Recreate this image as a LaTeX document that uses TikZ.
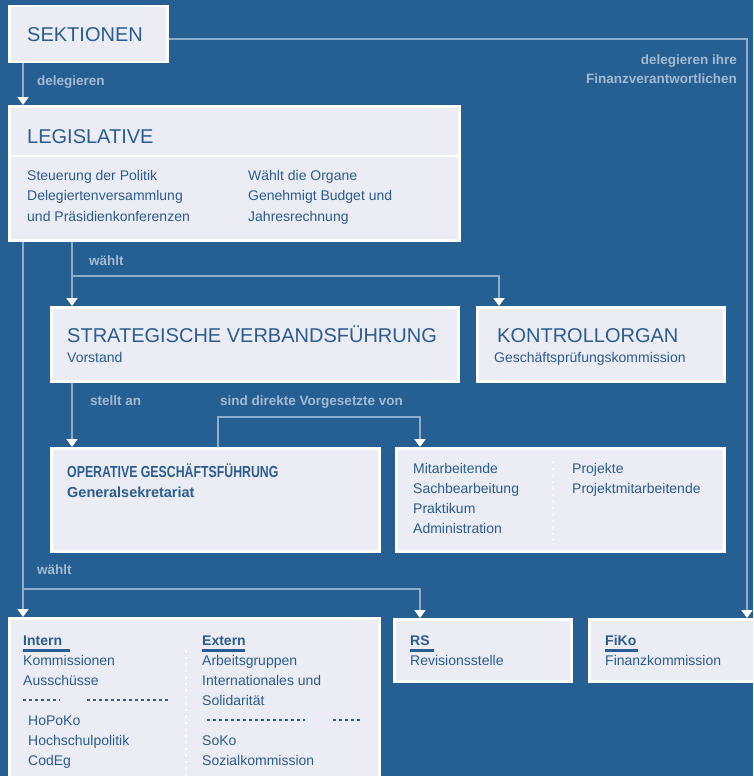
\documentclass[tikz,border=0pt]{standalone}
\usepackage{fontspec}
\usepackage{graphicx}
\setmainfont{Liberation Sans}
\usetikzlibrary{arrows.meta}
\definecolor{bg}{HTML}{265F91}
\definecolor{boxfill}{HTML}{EBECF4}
\definecolor{ink}{HTML}{2B5C93}
\definecolor{linec}{HTML}{8DAECB}
\definecolor{lblc}{HTML}{A2BBD4}
\tikzset{
  box/.style={rectangle, draw=white, line width=2.5pt, fill=boxfill, inner sep=0pt, anchor=north west},
  ttl/.style={anchor=base west, inner sep=0pt, text=ink, font=\fontsize{20}{24}\selectfont},
  body/.style={anchor=base west, inner sep=0pt, text=ink, font=\fontsize{14}{17}\selectfont},
  hdr/.style={anchor=base west, inner sep=0pt, text=ink, font=\bfseries\fontsize{14}{17}\selectfont},
  lbl/.style={anchor=base west, inner sep=0pt, text=lblc, font=\bfseries\fontsize{13.5}{16}\selectfont},
  lblr/.style={lbl, anchor=base east},
  conn/.style={draw=linec, line width=2.5pt, -{Triangle[width=11pt,length=8pt,color=white]}},
  uline/.style={draw=ink, line width=3pt},
  inkdots/.style={draw=ink, line width=2.5pt, dash pattern=on 2.5pt off 3.5pt},
  whitedots/.style={draw=white, line width=2.5pt, dash pattern=on 2.5pt off 4pt}
}
\begin{document}
\begin{tikzpicture}[x=1pt,y=-1pt]
\fill[bg] (0,0) rectangle (753,776);
\useasboundingbox (0,0) rectangle (753,776);
\clip (0,0) rectangle (753,776);

% helper coordinates
\coordinate (cA) at (23,0);
\coordinate (cD) at (72,0);
\coordinate (cE) at (499,0);
\coordinate (cF) at (218,0);
\coordinate (cC) at (420,0);
\coordinate (cR) at (747,0);
\coordinate (ySek) at (0,39);
\coordinate (yK) at (0,276);
\coordinate (yV) at (0,417);
\coordinate (yB) at (0,589);
\coordinate (ySep) at (0,156);

% boxes
\node[box, minimum width=158pt, minimum height=56pt] (sek) at (8,5) {};
\node[box, minimum width=450pt, minimum height=134pt] (leg) at (8,105) {};
\node[box, minimum width=407pt, minimum height=74pt] (strat) at (50,306) {};
\node[box, minimum width=247pt, minimum height=74pt] (kontr) at (476,306) {};
\node[box, minimum width=328pt, minimum height=103pt] (oper) at (50,447) {};
\node[box, minimum width=328pt, minimum height=103pt] (staff) at (395,447) {};
\node[box, minimum width=370pt, minimum height=190pt] (kom) at (8,617) {};
\node[box, minimum width=177pt, minimum height=62pt] (rev) at (393,618) {};
\node[box, minimum width=190pt, minimum height=62pt] (fiko) at (588,618) {};

% legislative header separator
\draw[white, line width=2.5pt] (leg.west |- ySep) -- (leg.east |- ySep);

% connectors
\draw[conn] (sek.south -| cA) -- (leg.north -| cA);
\draw[conn] (sek.east |- ySek) -- (cR |- ySek) -- (fiko.north -| cR);
\draw[conn] (leg.south -| cA) -- (kom.north -| cA);
\draw[conn] (cA |- yB) -- (cC |- yB) -- (rev.north -| cC);
\draw[conn] (leg.south -| cD) -- (strat.north -| cD);
\draw[conn] (cD |- yK) -- (cE |- yK) -- (kontr.north -| cE);
\draw[conn] (strat.south -| cD) -- (oper.north -| cD);
\draw[conn] (oper.north -| cF) -- (cF |- yV) -- (cC |- yV) -- (staff.north -| cC);

% connector labels
\node[lbl] (l1) at (37,85) {delegieren};
\node[lblr] (l2) at (737,65) {delegieren ihre};
\node[lblr] (l3) at (737,84) {Finanzverantwortlichen};
\node[lbl] (l4) at (89,265) {wählt};
\node[lbl] (l5) at (90,405) {stellt an};
\node[lbl] (l6) at (220,405) {sind direkte Vorgesetzte von};
\node[lbl] (l7) at (37,574) {wählt};

% box texts
\node[ttl] (tsek) at (27,42) {SEKTIONEN};
\node[ttl] (tleg) at (27,143) {LEGISLATIVE};
\node[body] (lg1) at (27,180) {Steuerung der Politik};
\node[body] (lg2) at (27,200) {Delegiertenversammlung};
\node[body] (lg3) at (27,221) {und Präsidienkonferenzen};
\node[body] (lg4) at (248,180) {Wählt die Organe};
\node[body] (lg5) at (248,200) {Genehmigt Budget und};
\node[body] (lg6) at (248,221) {Jahresrechnung};

\node[ttl] (tstrat) at (67,342) {STRATEGISCHE VERBANDSFÜHRUNG};
\node[body] (sstrat) at (67,362) {Vorstand};
\node[ttl] (tkontr) at (497,342) {KONTROLLORGAN};
\node[body] (skontr) at (494,362) {Geschäftsprüfungskommission};

\node[anchor=base west, inner sep=0pt, text=ink, font=\bfseries\fontsize{16}{19}\selectfont] (toper) at (67,477) {\scalebox{0.77}[1]{OPERATIVE GESCHÄFTSFÜHRUNG}};
\node[anchor=base west, inner sep=0pt, text=ink, font=\bfseries\fontsize{14.5}{17}\selectfont] (soper) at (67,497) {Generalsekretariat};

\node[body] (st1) at (413,473) {Mitarbeitende};
\node[body] (st2) at (413,493) {Sachbearbeitung};
\node[body] (st3) at (413,513) {Praktikum};
\node[body] (st4) at (413,533) {Administration};
\node[body] (st5) at (572,473) {Projekte};
\node[body] (st6) at (572,493) {Projektmitarbeitende};
\draw[whitedots] (553,461) -- (553,540);

% bottom-left box
\node[hdr] (k1h) at (23,645) {Intern};
\draw[uline] (23,650) -- (70,650);
\node[body] (k1a) at (23,665) {Kommissionen};
\node[body] (k1b) at (23,685) {Ausschüsse};
\draw[inkdots] (23,700) -- (60,700);
\draw[inkdots] (87,700) -- (170,700);
\node[body] (k1c) at (28,725) {HoPoKo};
\node[body] (k1d) at (28,745) {Hochschulpolitik};
\node[body] (k1e) at (28,765) {CodEg};
\draw[whitedots] (186,650) -- (186,776);
\node[hdr] (k2h) at (202,645) {Extern};
\draw[uline] (202,650) -- (245,650);
\node[body] (k2a) at (202,665) {Arbeitsgruppen};
\node[body] (k2b) at (202,685) {Internationales und};
\node[body] (k2c) at (202,705) {Solidarität};
\draw[inkdots] (207,720) -- (305,720);
\draw[inkdots] (333,720) -- (363,720);
\node[body] (k2d) at (202,745) {SoKo};
\node[body] (k2e) at (202,765) {Sozialkommission};

% bottom-middle and bottom-right
\node[hdr] (rh) at (410,645) {RS};
\draw[uline] (410,650) -- (434,650);
\node[body] (rt) at (410,665) {Revisionsstelle};
\node[hdr] (fh) at (605,645) {FiKo};
\draw[uline] (605,650) -- (638,650);
\node[body] (ft) at (605,665) {Finanzkommission};
\end{tikzpicture}
\end{document}
